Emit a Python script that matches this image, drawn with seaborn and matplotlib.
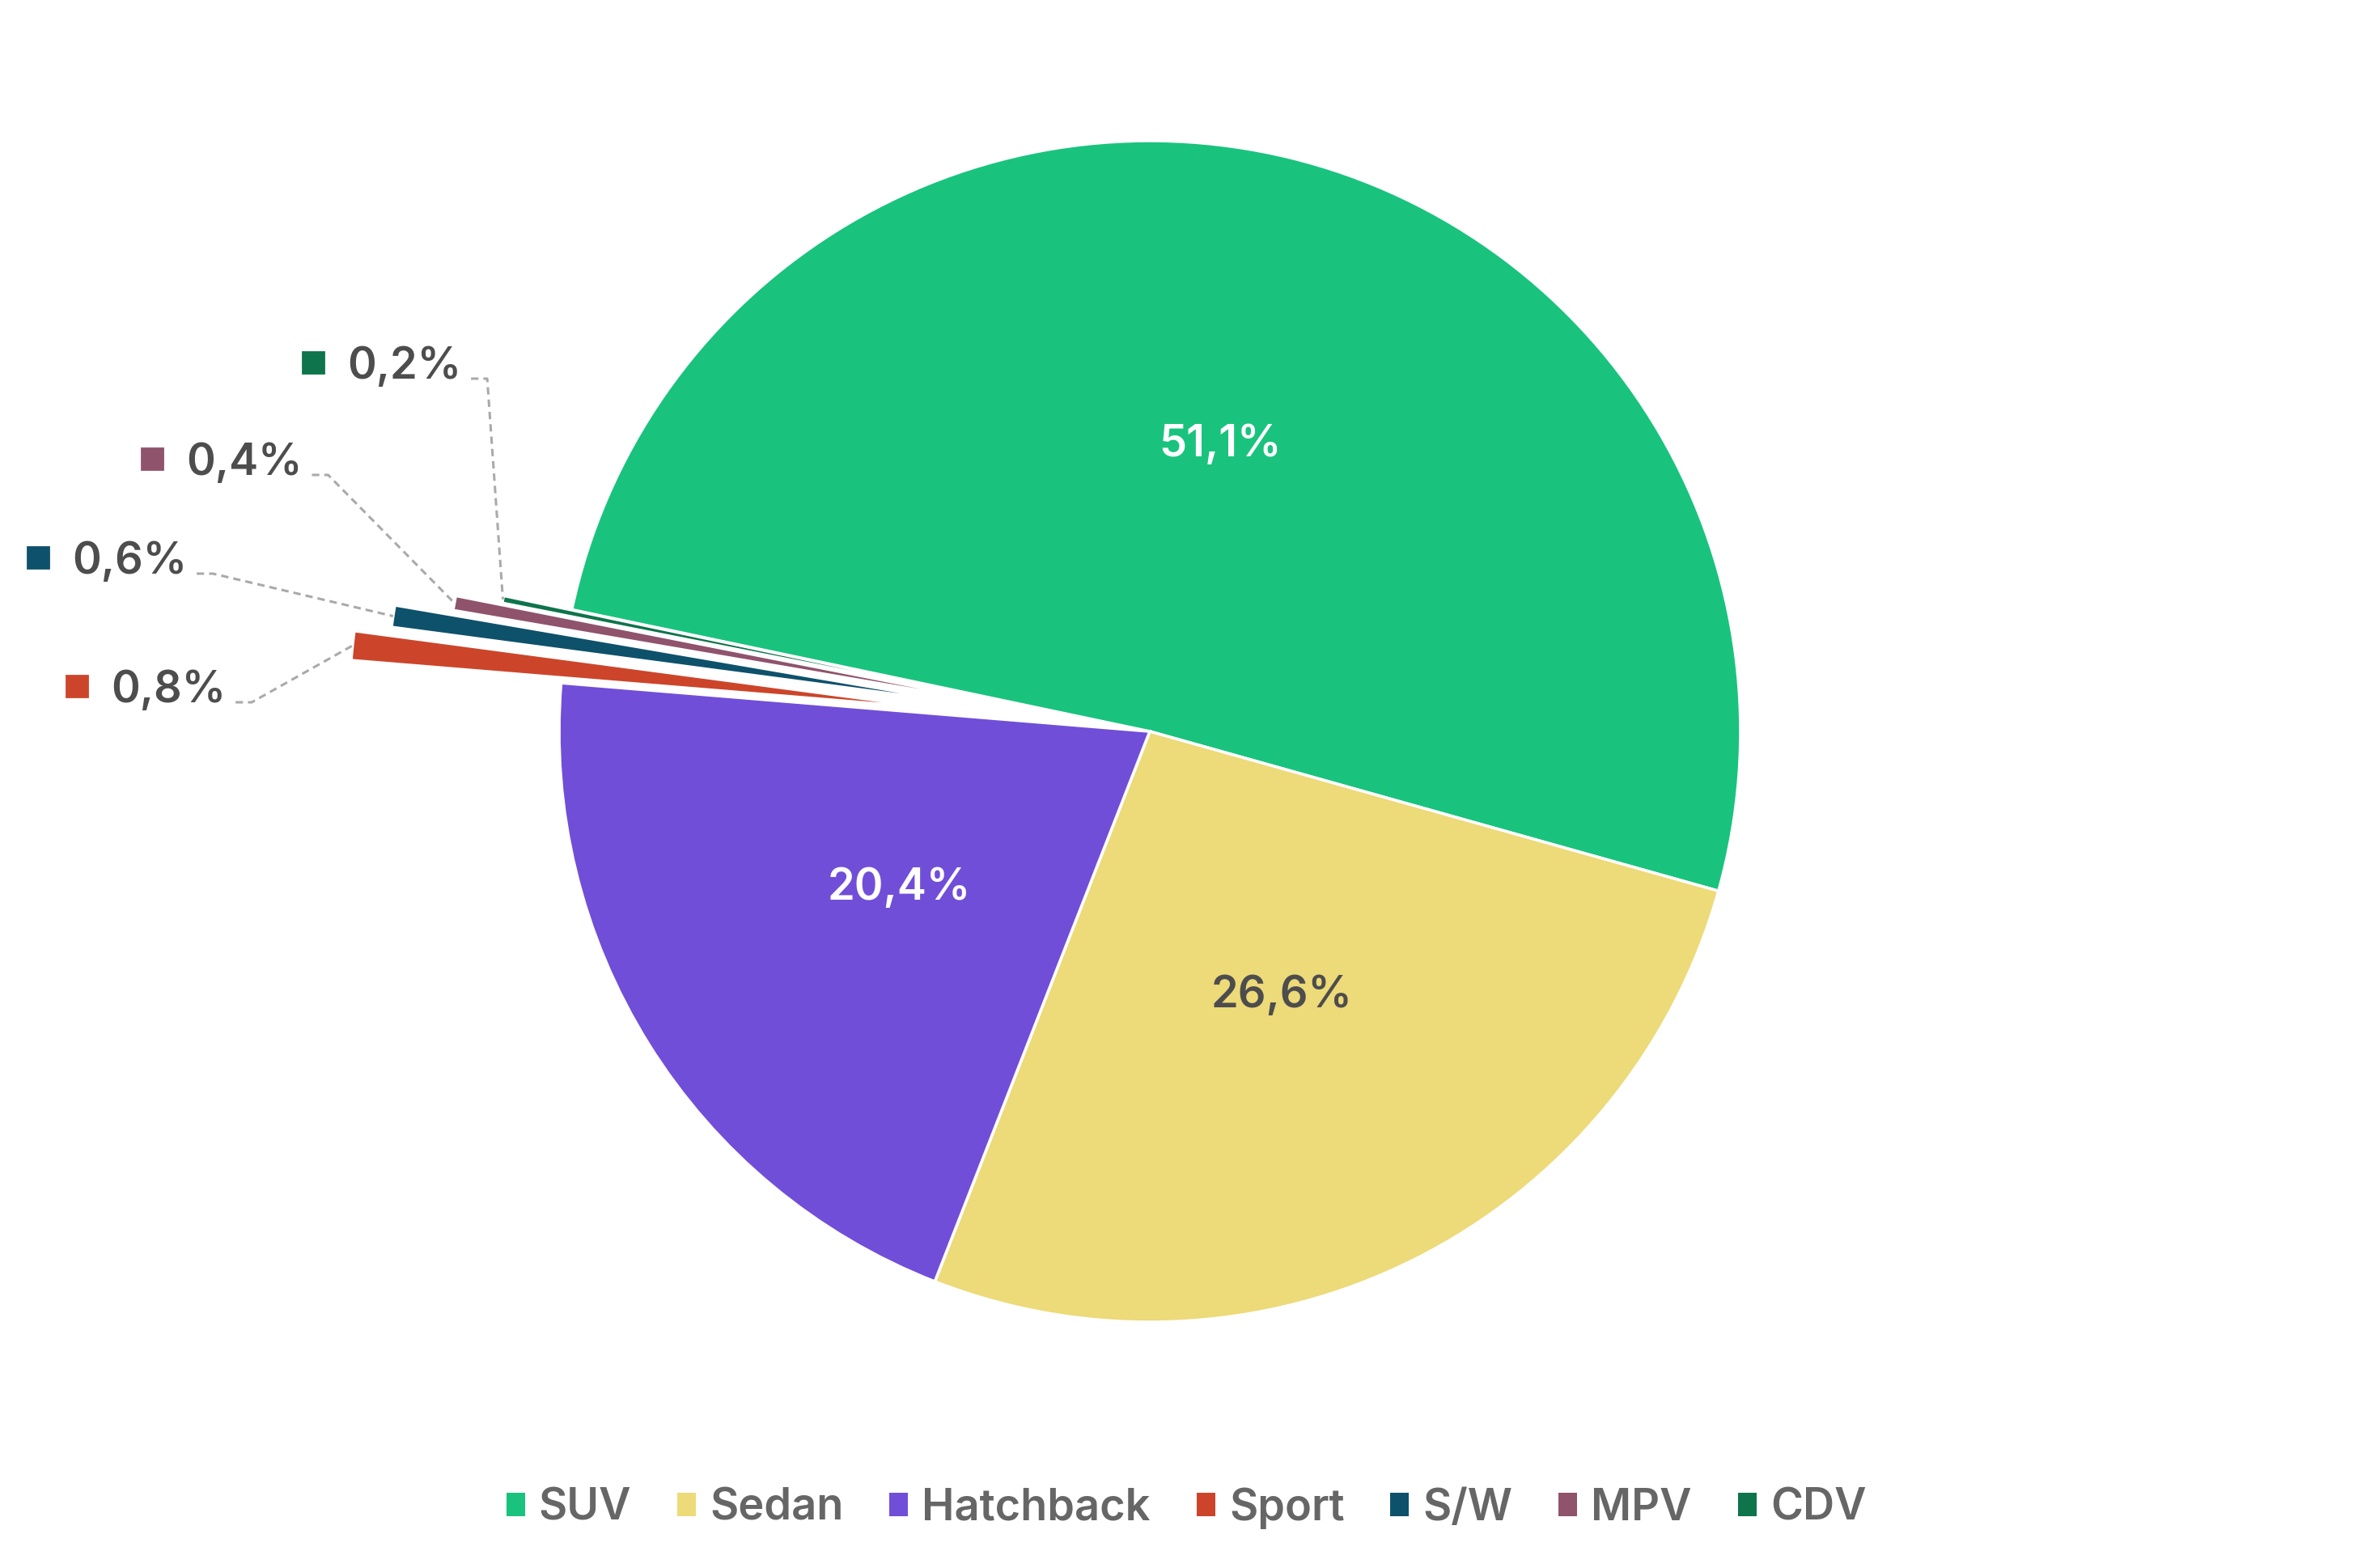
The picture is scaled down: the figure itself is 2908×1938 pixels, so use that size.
import matplotlib
matplotlib.use('Agg')
import matplotlib.pyplot as plt
from matplotlib.patches import Patch
import seaborn as sns
import numpy as np

# Données : répartition des ventes par carrosserie
categories = ['SUV', 'Sedan', 'Hatchback', 'Sport', 'S/W', 'MPV', 'CDV']
shares = [51.1, 26.6, 20.4, 0.8, 0.6, 0.4, 0.2]
share_labels = ['51,1%', '26,6%', '20,4%', '0,8%', '0,6%', '0,4%', '0,2%']
colors = ['#19C37D', '#EDDA78', '#714ED8', '#CC452A', '#0E516B', '#8F536C', '#0E744B']

W, H = 2908, 1938
DPI = 200
FS = 19.5

sns.set_theme(style='white')
plt.rcParams['font.family'] = ['Inter', 'DejaVu Sans']

fig = plt.figure(figsize=(W / DPI, H / DPI), dpi=DPI)
ax = fig.add_axes([0, 0, 1, 1])

# tout est exprimé en pixels (y vers le haut)
cx, cy, r = 1421, H - 904, 730
slice_offset = [0, 0, 0, 261, 216, 144, 86]

wedges, _ = ax.pie(shares, colors=colors, explode=slice_offset, startangle=168.1,
                   counterclock=False, center=(cx, cy), radius=r, frame=True,
                   wedgeprops=dict(edgecolor='white', linewidth=1.3))
ax.set_xlim(0, W)
ax.set_ylim(0, H)
ax.set_aspect('equal')
ax.axis('off')

# Étiquettes dans les grandes parts
inner_colors = ['white', '#4D4D4D', 'white']
for w, lab, tc in zip(wedges[:3], share_labels[:3], inner_colors):
    mid = np.deg2rad((w.theta1 + w.theta2) / 2)
    x = w.center[0] + 0.5 * w.r * np.cos(mid)
    y = w.center[1] + 0.5 * w.r * np.sin(mid)
    ax.text(x, y, lab, ha='center', va='center', fontsize=FS,
            fontweight='semibold', color=tc)

# Étiquettes extérieures des petites parts (marqueur, texte, connecteur)
marker_pos = {3: (95, 848), 4: (47, 689), 5: (188, 567), 6: (387, 448)}
renderer = fig.canvas.get_renderer()
for i, (mx, my) in marker_pos.items():
    w = wedges[i]
    ax.plot(mx, H - my, marker='s', markersize=9.4, color=colors[i], linestyle='none')
    base = H - my - 20
    t = ax.text(mx + 42, base, share_labels[i], ha='left', va='baseline',
                fontsize=FS, fontweight='semibold', color='#4D4D4D')
    bb = t.get_window_extent(renderer).transformed(ax.transData.inverted())
    mid = np.deg2rad((w.theta1 + w.theta2) / 2)
    ex = w.center[0] + w.r * np.cos(mid)
    ey = w.center[1] + w.r * np.sin(mid)
    x0 = bb.x1 + 12
    ax.plot([x0, x0 + 20, ex], [base, base, ey], color='#AAAAAA', lw=1.1,
            linestyle=(0, (3, 2)))

# Légende en bas
px = FS * DPI / 72
handles = [Patch(facecolor=c, edgecolor='none') for c in colors]
leg = ax.legend(handles, categories, loc='center', bbox_to_anchor=(1466 / W, (H - 1864) / H),
                bbox_transform=fig.transFigure, ncol=7, frameon=False,
                handlelength=23 / px, handleheight=23 / px, handletextpad=17 / px,
                columnspacing=57 / px, labelcolor='#666666',
                prop={'weight': 'semibold', 'size': FS})

fig.savefig('out.png', dpi=DPI)
